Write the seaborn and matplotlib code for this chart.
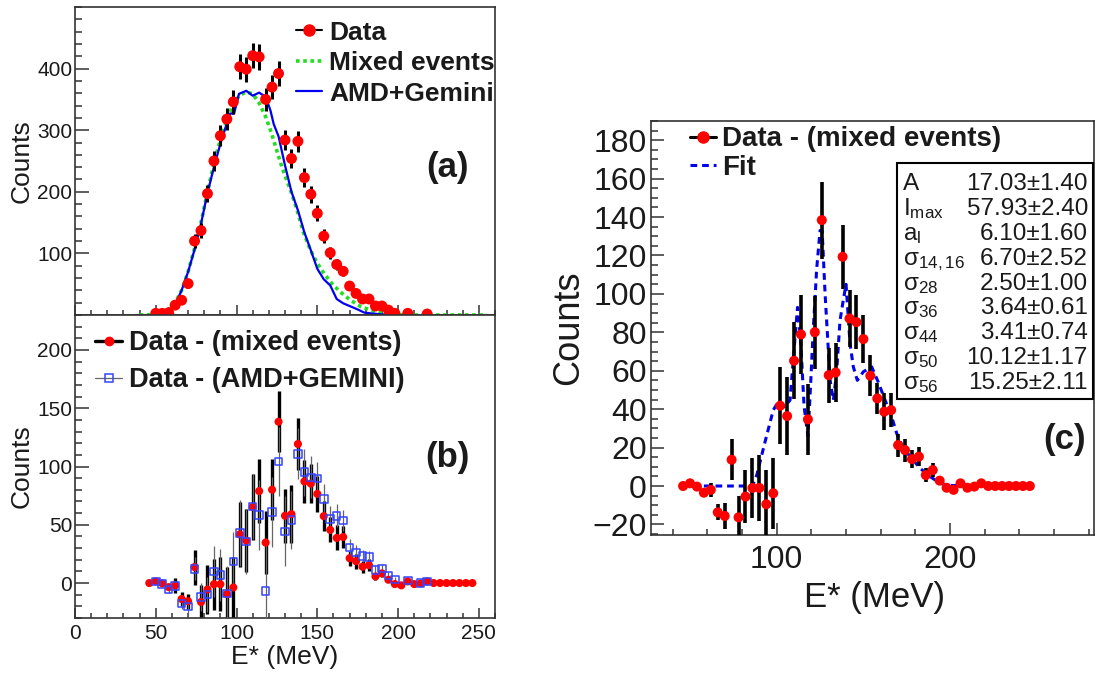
import numpy as np
import pandas as pd
import matplotlib
matplotlib.use("Agg")
import matplotlib.pyplot as plt
import seaborn as sns
from matplotlib.lines import Line2D
from matplotlib.patches import Rectangle
from matplotlib.ticker import MultipleLocator, FixedLocator

# ---------------- data ----------------
# panel (a): raw data
data_e = [50, 54, 58, 62, 66, 70, 74, 78, 82, 86, 90, 94, 98, 102, 106, 110, 114, 118, 122, 126,
          130, 134, 138, 142, 146, 150, 154, 158, 162, 166, 170, 174, 178, 182, 186, 190, 194, 198,
          206, 218]
data_y = [2.7, 2.7, 3.8, 16, 24, 51, 120, 137, 197, 250, 291, 318, 346, 403, 399, 421, 419, 350, 370, 392,
          284, 254, 282, 223, 196, 165, 128, 101, 82, 71, 47, 35, 26, 26, 14.6, 14.6, 8, 2.7,
          2.7, 1.6]
data_err = [1.6, 1.6, 2, 4, 5, 7, 11, 12, 14, 16, 17, 18, 19, 20, 20, 20.5, 20.5, 18.7, 19.2, 19.8,
            16.9, 15.9, 16.8, 14.9, 14, 12.8, 11.3, 10, 9, 8.4, 6.9, 5.9, 5.1, 5.1, 3.8, 3.8, 2.8, 1.6,
            1.6, 1.3]

# panel (a): mixed events (green dotted)
mix_e = [40, 46, 50, 54, 58, 62, 66, 70, 74, 78, 82, 86, 90, 94, 98, 102, 106, 110, 114, 118, 121, 124,
         127, 130, 133.5, 137.5, 141.5, 146, 150, 154, 159, 164, 170, 177, 183, 190, 197, 205, 215, 230,
         245, 255]
mix_y = [0, 0.5, 1.5, 4, 9, 20, 40, 70, 108, 150, 200, 246, 285, 316, 342, 357, 362, 359, 344, 322, 300, 275,
         249, 226, 202, 170, 133, 104, 84, 68, 51, 38, 25, 13.5, 8, 3.5, 1, 0, 0, 0,
         0, 0]

# panel (a): AMD+Gemini (blue solid)
amd_e = [50, 54, 58, 62, 66, 70, 74, 78, 82, 86, 90, 94, 96, 98.5, 101.5, 106, 110, 114, 118, 121, 123,
         126, 130, 134, 138, 142, 146, 150, 154, 158, 162, 166, 170, 175, 179, 183, 190, 200]
amd_y = [0, 1.5, 6, 17, 40, 70, 106, 148, 198, 240, 278, 311, 327, 327, 359, 364, 356, 361, 354, 332, 310,
         290, 243, 200, 170, 134, 105, 75, 58, 48, 26, 19, 14.6, 9, 4, 2.7, 1, 0]

# panels (b) and (c): data - (mixed events)
diff_e = [46, 50, 54, 58, 62, 66, 70, 74, 78, 82, 86, 90, 94, 98, 102, 106, 110, 114, 118, 122,
          126, 130, 134, 138, 142, 146, 150, 154, 158, 162, 166, 170, 174, 178, 182, 186, 190, 194,
          198, 202, 206, 210, 214, 218, 222, 226, 230, 234, 238, 242, 246]
diff_y = [0, 1.4, -0.3, -3.5, -2, -13.7, -15.6, 13.7, -16.3, -5.5, -1, -1, -9.5, -3.8, 41.8, 36.4, 65.2, 78.9,
          34.7, 80.1, 138.4, 57.7, 59.1, 119.3, 87.2, 85.3, 76.5, 57.4, 45.6, 38.7, 39.5, 21.3, 18.7, 14.0,
          15.3, 5.7, 8.3, 2.8, -0.9, -2, 1.4, -0.9, -0.3, 1.4, 0, 0, 0, 0, 0, 0, 0]
diff_err_b = [1, 1.5, 1.5, 2, 6.4, 6, 6.4, 15, 15, 21, 22, 23, 23, 26, 28, 27, 28, 27.5, 27, 26,
              26, 23, 25, 22, 18.6, 17, 15.7, 13, 10.7, 10.7, 9.3, 6.4, 6.4, 5, 5, 3, 3, 1.5,
              1.5, 1.5, 1.5, 1, 1, 1, 0, 0, 0, 0, 0, 0, 0]
diff_err_c = [1, 1.2, 1.2, 1.5, 3.6, 4.2, 7, 10.8, 11, 14, 15.5, 17, 18, 18.6, 20, 20.4, 20, 20.4, 18.6, 19,
              20, 14.3, 15.6, 16.5, 14.7, 13.9, 12.6, 10.8, 8.2, 9.5, 8.7, 6, 6, 4.8, 4.8, 3.5, 3.6, 2,
              1.5, 1.5, 1.5, 1, 1, 1, 0, 0, 0, 0, 0, 0, 0]

# panel (b): data - (AMD+GEMINI)
sub_e = [50, 54, 58, 62, 66, 70, 74, 78, 82, 86, 90, 94, 98, 102, 106, 110, 114, 118, 122, 126,
         130, 134, 138, 142, 146, 150, 154, 158, 162, 166, 170, 174, 178, 182, 186, 190, 194, 198,
         206, 214, 218]
sub_y = [1.4, -1, -5.7, -2.3, -17.7, -20, 12.3, -12, -10, 10, 7, -9, 18.6, 42.9, 35.7, 65.7, 58.6, -6.6, 60.9,
         104.3, 44.3, 54.3, 110.9, 95.1, 90.6, 89.7, 72, 54.9, 57.7, 53.7, 30.6, 26.3, 23.4, 22.3, 11.4, 12.6,
         6.6, 2.9, 2.3, 0, 1.4]
sub_err = [2, 2, 2.5, 3.5, 5, 7, 10, 12, 15, 22, 22, 24, 25, 28, 28, 28, 30, 45, 30, 30,
           30, 25, 22, 20, 18, 14, 13, 11, 10, 9, 7, 6, 5, 5, 4, 4, 3, 2, 2, 1.5, 1.5]

# panel (c): fit curve
fit_e = [58, 86, 88.5, 93, 98, 101, 104.8, 107.7, 110, 112, 113.8, 115.8, 118, 119.5, 121, 123, 125, 126.2,
         127.9, 130.8, 132.7, 134.5, 136.5, 138.4, 140, 142.3, 144.2, 146.5, 150, 154.8, 158.6, 162.5,
         166.3, 169.2, 173, 177.9, 182.7, 188.5, 194.2, 200, 210.5]
fit_y = [0, 0, 5.7, 22, 39.5, 44, 41.3, 44.7, 70.8, 93, 76, 41.3, 26, 51.7, 80, 112.4, 133, 133,
         100, 55, 44.7, 58.8, 86, 96.8, 105, 74, 62, 55, 59.5, 62, 54, 44.7,
         36, 27.4, 19.6, 14.4, 9.2, 4.9, 1.4, 0.3, 0]

stats_names = ["A", r"$\mathregular{I_{max}}$", r"$\mathregular{a_{l}}$", r"$\mathregular{\sigma_{14,16}}$",
               r"$\mathregular{\sigma_{28}}$", r"$\mathregular{\sigma_{36}}$", r"$\mathregular{\sigma_{44}}$",
               r"$\mathregular{\sigma_{50}}$", r"$\mathregular{\sigma_{56}}$"]
stats_values = ["17.03±1.40", "57.93±2.40", "6.10±1.60", "6.70±2.52", "2.50±1.00", "3.64±0.61",
                "3.41±0.74", "10.12±1.17", "15.25±2.11"]

# ---------------- style ----------------
sns.set_theme(style="ticks")
plt.rcParams["font.family"] = ["Liberation Sans", "DejaVu Sans"]
plt.rcParams["mathtext.fontset"] = "custom"
plt.rcParams["mathtext.rm"] = "Liberation Sans"
plt.rcParams["mathtext.it"] = "Liberation Sans:italic"
plt.rcParams["mathtext.bf"] = "Liberation Sans:bold"
plt.rcParams["axes.unicode_minus"] = True

TXT = "#1a1a1a"
W, H = 1096, 673
fig = plt.figure(figsize=(W / 100, H / 100), dpi=100)
fig.patch.set_facecolor("white")


def rect(l, t, r, b):
    return [l / W, 1 - b / H, (r - l) / W, (b - t) / H]


def fx(p):
    return p / W


def fy(p):
    return 1 - p / H


axA = fig.add_axes(rect(75, 7, 495, 315))
axB = fig.add_axes(rect(75, 315, 495, 618))
axC = fig.add_axes(rect(651, 121, 1094, 535))


def style(ax, lsize, xmaj_len, xmin_len, ymaj_len, ymin_len, xpad, ypad):
    ax.set_facecolor("white")
    for s in ax.spines.values():
        s.set_color("#333333")
        s.set_linewidth(1.2)
    ax.tick_params(which="both", direction="in", top=False, right=False, colors="#333333",
                   labelcolor=TXT, labelsize=lsize, width=1.1)
    ax.tick_params(axis="x", which="major", length=xmaj_len, pad=xpad)
    ax.tick_params(axis="x", which="minor", length=xmin_len)
    ax.tick_params(axis="y", which="major", length=ymaj_len, pad=ypad)
    ax.tick_params(axis="y", which="minor", length=ymin_len)
    ax.set_xlabel("")
    ax.set_ylabel("")
    ax.grid(False)


# ---------------- panel (a) ----------------
sns.lineplot(x=mix_e, y=mix_y, ax=axA, color="#22dd22", lw=2.6, linestyle=(0, (1, 1)),
             sort=False, estimator=None, zorder=2)
sns.lineplot(x=amd_e, y=amd_y, ax=axA, color="#0000ee", lw=1.6, sort=False, estimator=None, zorder=2)
axA.errorbar(data_e, data_y, yerr=data_err, fmt="none", ecolor="black", elinewidth=2.2, capsize=0, zorder=3)
sns.scatterplot(x=data_e, y=data_y, ax=axA, color="red", s=62, edgecolor="none", zorder=4)
axA.set_xlim(0, 260)
axA.set_ylim(0, 500)
axA.xaxis.set_major_locator(MultipleLocator(50))
axA.xaxis.set_minor_locator(MultipleLocator(10))
axA.yaxis.set_major_locator(FixedLocator([100, 200, 300, 400]))
axA.yaxis.set_minor_locator(MultipleLocator(20))
style(axA, 15, 7, 3.6, 10, 5, 4, 2)
axA.tick_params(axis="x", labelbottom=False)

hA = [Line2D([], [], color="black", lw=1.5, marker="o", ms=8, mfc="red", mec="red"),
      Line2D([], [], color="#22dd22", lw=2.6, ls=(0, (1, 1))),
      Line2D([], [], color="#0000ee", lw=1.6)]
legA = axA.legend(hA, ["Data", "Mixed events", "AMD+Gemini"], loc="upper left",
                  bbox_to_anchor=(fx(296), fy(20.5)), bbox_transform=fig.transFigure, frameon=False,
                  prop={"weight": "bold", "size": 19}, handlelength=1.0, handletextpad=0.25,
                  labelspacing=0.25, borderpad=0, borderaxespad=0)
for t in legA.get_texts():
    t.set_color(TXT)

# ---------------- panel (b) ----------------
axB.errorbar(diff_e, diff_y, yerr=diff_err_b, fmt="none", ecolor="black", elinewidth=2.4, capsize=0, zorder=2)
axB.errorbar(sub_e, sub_y, yerr=sub_err, fmt="none", ecolor="#666666", elinewidth=0.9, capsize=0, zorder=3)
sns.scatterplot(x=diff_e, y=diff_y, ax=axB, color="red", s=34, edgecolor="none", zorder=4)
sns.scatterplot(x=sub_e, y=sub_y, ax=axB, marker="s", s=30, facecolor="none", edgecolor="#3344ff",
                linewidth=1.1, zorder=5)
axB.set_xlim(0, 260)
axB.set_ylim(-30, 230)
axB.xaxis.set_major_locator(MultipleLocator(50))
axB.xaxis.set_minor_locator(MultipleLocator(10))
axB.yaxis.set_major_locator(FixedLocator([0, 50, 100, 150, 200]))
axB.yaxis.set_minor_locator(MultipleLocator(10))
style(axB, 15, 7, 3.6, 10, 5, 4, 2)

hB = [Line2D([], [], color="black", lw=2.4, marker="o", ms=6, mfc="red", mec="red"),
      Line2D([], [], color="#666666", lw=0.9, marker="s", ms=6, mfc="none", mec="#3344ff", mew=1.1)]
legB = axB.legend(hB, ["Data - (mixed events)", "Data - (AMD+GEMINI)"], loc="upper left",
                  bbox_to_anchor=(fx(95), fy(330.5)), bbox_transform=fig.transFigure, frameon=False,
                  prop={"weight": "bold", "size": 19.5}, handlelength=1.0, handletextpad=0.26,
                  labelspacing=0.4, borderpad=0, borderaxespad=0)
for t in legB.get_texts():
    t.set_color(TXT)

# ---------------- panel (c) ----------------
sns.lineplot(x=fit_e, y=fit_y, ax=axC, color="#0000ee", lw=2.2, linestyle=(0, (2.2, 1.6)),
             sort=False, estimator=None, zorder=2)
axC.errorbar(diff_e, diff_y, yerr=diff_err_c, fmt="none", ecolor="black", elinewidth=2.6, capsize=0, zorder=3)
sns.scatterplot(x=diff_e, y=diff_y, ax=axC, color="red", s=52, edgecolor="none", zorder=4)
axC.set_xlim(27.5, 283)
axC.set_ylim(-25.5, 190)
axC.xaxis.set_major_locator(MultipleLocator(100))
axC.xaxis.set_minor_locator(MultipleLocator(20))
axC.yaxis.set_major_locator(MultipleLocator(20))
axC.yaxis.set_minor_locator(MultipleLocator(5))
style(axC, 23, 8.6, 4.3, 9.7, 5, 7, 3)

hC = [Line2D([], [], color="black", lw=2.2, marker="o", ms=8, mfc="red", mec="red"),
      Line2D([], [], color="#0000ee", lw=2.2, ls=(0, (2.2, 1.6)))]
legC = axC.legend(hC, ["Data - (mixed events)", "Fit"], loc="upper left",
                  bbox_to_anchor=(fx(690), fy(126.5)), bbox_transform=fig.transFigure, frameon=False,
                  prop={"weight": "bold", "size": 20}, handlelength=0.95, handletextpad=0.2,
                  labelspacing=0.08, borderpad=0, borderaxespad=0)
for t in legC.get_texts():
    t.set_color(TXT)

# stats box
box = Rectangle((fx(897), fy(399)), (1093 - 897) / W, (399 - 163) / H, transform=fig.transFigure,
                facecolor="white", edgecolor="black", lw=1.5, zorder=10)
fig.add_artist(box)
for i, (nm, val) in enumerate(zip(stats_names, stats_values)):
    base = 190.5 + i * 24.8
    fig.text(fx(903), fy(base), nm, ha="left", va="baseline", size=17.5, color=TXT, zorder=11)
    fig.text(fx(1088), fy(base), val, ha="right", va="baseline", size=17.5, color=TXT, zorder=11)

# ---------------- labels ----------------
fig.text(fx(447), fy(167), "(a)", ha="center", va="center", weight="bold", size=25, color=TXT)
fig.text(fx(447), fy(458), "(b)", ha="center", va="center", weight="bold", size=25, color=TXT)
fig.text(fx(1065), fy(440), "(c)", ha="center", va="center", weight="bold", size=25, color=TXT)

fig.text(fx(22), fy(161), "Counts", rotation=90, ha="center", va="center", size=19, color=TXT)
fig.text(fx(22), fy(466), "Counts", rotation=90, ha="center", va="center", size=19, color=TXT)
fig.text(fx(285), fy(657), "E* (MeV)", ha="center", va="center", size=19, color=TXT)

fig.text(fx(569), fy(328), "Counts", rotation=90, ha="center", va="center", size=26, color=TXT)
fig.text(fx(875), fy(597), "E* (MeV)", ha="center", va="center", size=25, color=TXT)

fig.savefig("out.png", dpi=100, facecolor="white")
